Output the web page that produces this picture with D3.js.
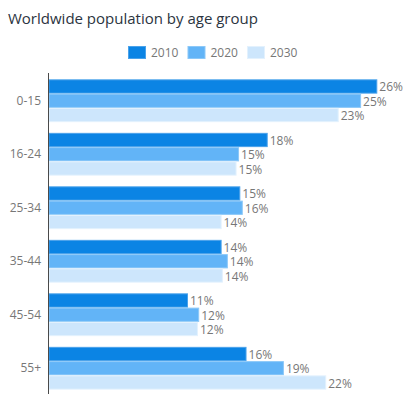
<!DOCTYPE html>
<html>
<head>
<meta charset="utf-8">
<title>Worldwide population by age group</title>
<style>
    body {
        margin : 0;
        background : #fff;
        font-family : "Open Sans", sans-serif;
    }
    .title {
        fill : #2b3440;
        font-size : 15px;
    }
    .legendtext, .valuelabel, .catlabel {
        fill : #777;
        font-size : 12px;
    }
    .axisline {
        stroke : #4a4a4a;
        stroke-width : 1px;
    }
</style>
</head>
<body>
<script src="https://cdn.jsdelivr.net/npm/d3@7"></script>
<script>

var categories = ["0-15", "16-24", "25-34", "35-44", "45-54", "55+"];
var seriesNames = ["2010", "2020", "2030"];
var values2010 = [26.4, 17.6, 15.4, 13.9, 11.2, 15.9];
var values2020 = [25.1, 15.3, 15.6, 14.4, 12.1, 18.9];
var values2030 = [23.3, 15.1, 13.9, 14.0, 12.0, 22.3];
var seriesColors = ["#0b84e4", "#62b4f7", "#cde6fc"];
var strokeColors = ["#4aa2ea", "#8cc8f8", "#e3f1fd"];

var SVGwidth = 406, SVGheight = 394;
var xAxisPos = 48.5;

var svg = d3.select("body").append("svg")
        .attr("width", SVGwidth)
        .attr("height", SVGheight);

//title
svg.append("text")
        .attr("class", "title")
        .attr("x", 8)
        .attr("y", 24)
        .text("Worldwide population by age group");

//legend
var legendX = d3.scalePoint().domain(seriesNames).range([128, 247]);
var legend = svg.selectAll(".legenditem")
        .data(seriesNames)
        .enter().append("g")
        .attr("class", "legenditem")
        .attr("transform", function(d) { return "translate(" + legendX(d) + ",46)"; });
legend.append("rect")
        .attr("x", 0.5).attr("y", 0.5)
        .attr("width", 17).attr("height", 12)
        .attr("fill", function(d, i) { return seriesColors[i]; })
        .attr("stroke", function(d, i) { return strokeColors[i]; });
legend.append("text")
        .attr("class", "legendtext")
        .attr("x", 23)
        .attr("y", 11)
        .text(function(d) { return d; });

//scales
var x = d3.scaleLinear().domain([0, 26.4]).range([xAxisPos, 377.3]);
var y = d3.scaleBand().domain(categories).range([74, 395]).paddingInner(0.2).paddingOuter(0.1);
var ySub = d3.scaleBand().domain(seriesNames).range([0, y.bandwidth()]);

var rows = categories.map(function(c, i) {
    return { cat : c, vals : [values2010[i], values2020[i], values2030[i]] };
});

var groups = svg.selectAll(".group")
        .data(rows)
        .enter().append("g")
        .attr("class", "group")
        .attr("transform", function(d) { return "translate(0," + y(d.cat) + ")"; });

var bars = groups.selectAll(".bar")
        .data(function(d) { return d.vals.map(function(v, i) { return { name : seriesNames[i], v : v, i : i }; }); })
        .enter();

bars.append("rect")
        .attr("class", "bar")
        .attr("x", x(0) + 0.5)
        .attr("y", function(d) { return ySub(d.name) + 0.5; })
        .attr("width", function(d) { return x(d.v) - x(0) - 1; })
        .attr("height", ySub.bandwidth() - 1)
        .attr("fill", function(d) { return seriesColors[d.i]; })
        .attr("stroke", function(d) { return strokeColors[d.i]; });

bars.append("text")
        .attr("class", "valuelabel")
        .attr("x", function(d) { return x(d.v) + 2; })
        .attr("y", function(d) { return ySub(d.name) + ySub.bandwidth() / 2 + 5; })
        .text(function(d) { return Math.round(d.v) + "%"; });

//category labels
svg.selectAll(".catlabel")
        .data(categories)
        .enter().append("text")
        .attr("class", "catlabel")
        .attr("x", 41)
        .attr("y", function(d) { return y(d) + y.bandwidth() / 2 + 4; })
        .attr("text-anchor", "end")
        .text(function(d) { return d; });

//axis line
svg.append("line")
        .attr("class", "axisline")
        .attr("x1", xAxisPos).attr("x2", xAxisPos)
        .attr("y1", 73).attr("y2", SVGheight);

</script>
</body>
</html>
